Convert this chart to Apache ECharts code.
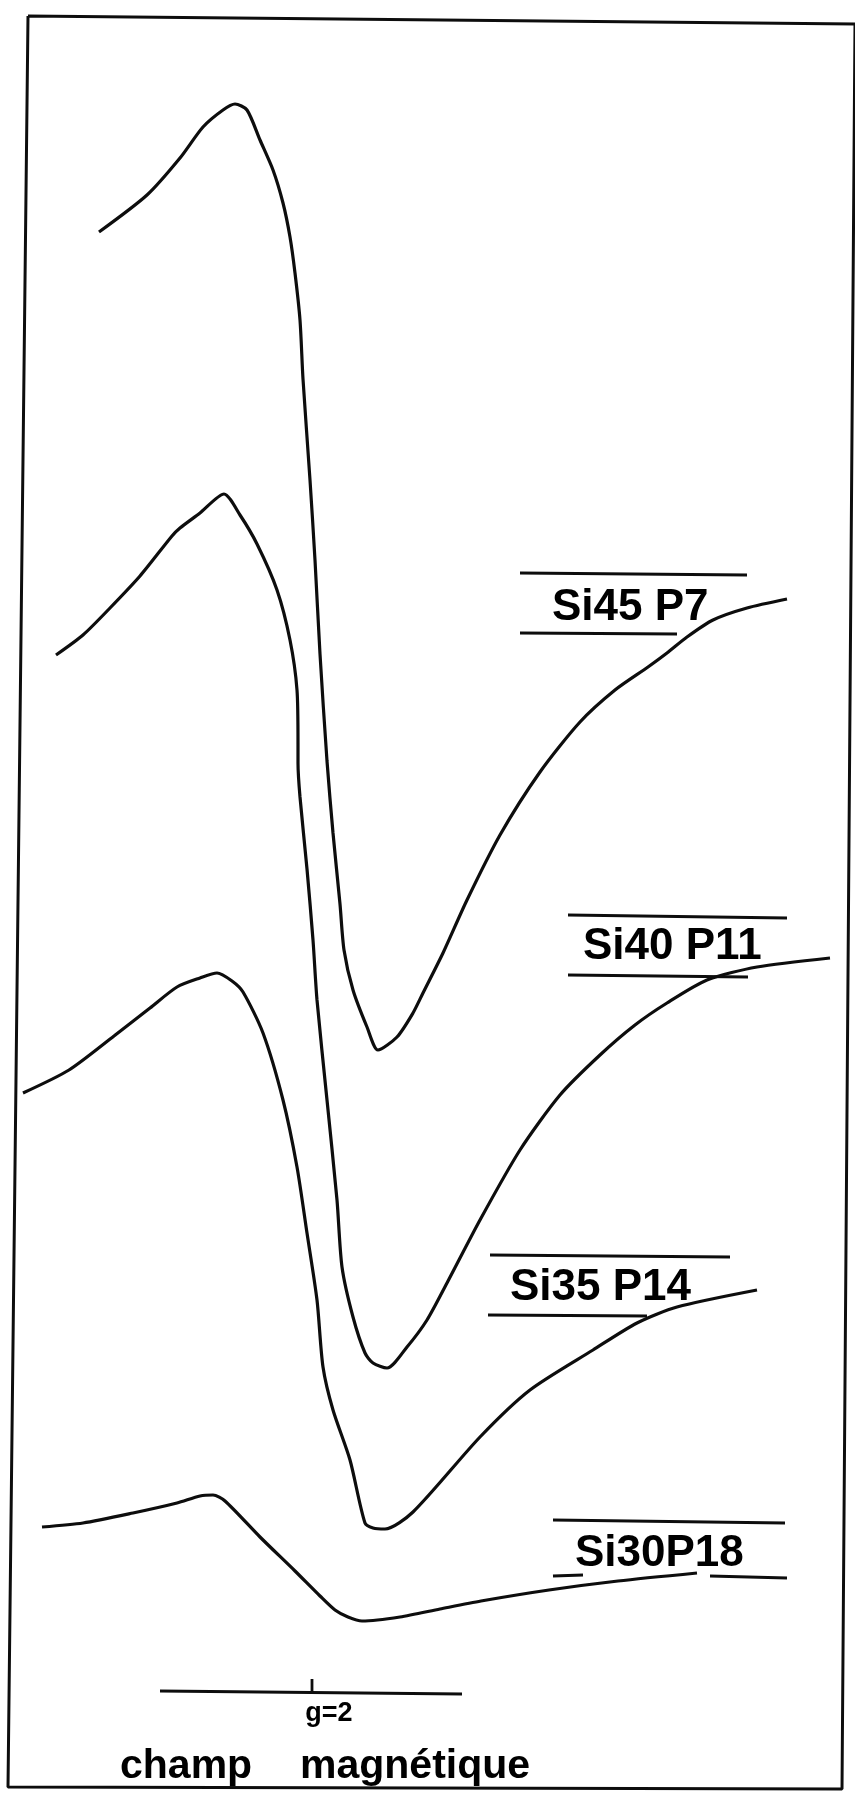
<!DOCTYPE html>
<html><head><meta charset="utf-8">
<script src="https://cdn.jsdelivr.net/npm/echarts/dist/echarts.min.js"></script>
<style>html,body{margin:0;padding:0;background:#fff}#c{width:855px;height:1794px}</style>
</head><body><div id="c"></div>
<script>
// Field (x, arbitrary units) / derivative signal (y, arbitrary units, downward positive)
const si45P7 = [[99,232],[147,195],[180,158],[203,127],[223,110],[235,104],[247,110],[260,140],[273,170],[283,203],[290,237],[295,273],[300,320],[303,379],[310,480],[315,560],[320,654],[327,761],[333,833],[340,904],[344,950],[353,990],[367,1027],[378,1050],[397,1037],[413,1013],[423,993],[443,953],[467,900],[500,835],[540,772],[580,722],[615,690],[648,667],[667,653],[687,637],[713,620],[747,608],[787,599]];
const si40P11 = [[56,655],[83,635],[110,608],[140,576],[172,536],[180,528],[200,513],[224,494],[240,515],[257,544],[277,590],[290,640],[297,690],[298,744],[298,763],[300,797],[307,869],[313,940],[317,1000],[327,1100],[337,1200],[342,1267],[353,1317],[365,1353],[373,1363],[387,1368],[407,1347],[427,1320],[447,1283],[480,1220],[520,1150],[560,1095],[600,1055],[635,1025],[667,1003],[707,980],[757,967],[830,958]];
const si35P14 = [[23,1093],[69,1070],[114,1036],[150,1008],[177,987],[200,978],[217,973],[232,981],[243,992],[263,1033],[283,1100],[297,1167],[307,1233],[317,1300],[323,1367],[333,1410],[350,1460],[365,1523],[373,1528],[385,1529],[413,1512],[480,1437],[530,1390],[593,1350],[637,1323],[677,1307],[757,1290]];
const si30P18 = [[42,1527],[83,1523],[133,1513],[177,1503],[200,1496],[213,1495],[225,1501],[260,1537],[295,1571],[320,1596],[335,1610],[348,1617],[362,1621],[400,1617],[440,1609],[481,1601],[549,1590],[618,1581],[697,1573]];

const sampleNames = ['Si45 P7', 'Si40 P11', 'Si35 P14', 'Si30P18'];
const sampleLabelPos = [[552,608],[583,947],[510,1288],[575,1554]];
const underlineSegments = [
  [[520,573],[747,575]], [[520,633],[677,634]],
  [[568,915],[787,918]], [[568,975],[748,977]],
  [[490,1255],[730,1257]], [[488,1315],[647,1316]],
  [[553,1520],[785,1523]], [[553,1576],[583,1575]], [[710,1576],[787,1578]]
];
const frameOutline = [[28,16],[855,24],[842,1789],[8,1787],[28,16]];
const fieldScaleBar = [[160,1691],[462,1694]];
const g2Tick = [[312,1679],[312,1692]];
const axisTexts = ['g=2', 'champ', 'magnétique'];
const axisTextPos = [[329,1714],[120,1767],[300,1767]];

const INK = '#0d0d0d';
const FONT = '"Liberation Sans", Arial, sans-serif';
const chart = echarts.init(document.getElementById('c'), null, {renderer: 'canvas'});

function lineSeries(data, w, smooth) {
  return {type: 'line', data: data, showSymbol: false, symbol: 'none', smooth: smooth || false,
    silent: true, animation: false, lineStyle: {color: INK, width: w, opacity: 1}, z: 2};
}

const series = [];
[si45P7, si40P11, si35P14, si30P18].forEach(d => series.push(lineSeries(d, 3.2, 0.25)));
underlineSegments.forEach(s => series.push(lineSeries(s, 3)));
series.push(lineSeries(frameOutline, 3));
series.push(lineSeries(fieldScaleBar, 2.8));
series.push(lineSeries(g2Tick, 2.8));

series.push({
  type: 'scatter', symbolSize: 0, silent: true, animation: false, z: 5,
  data: sampleNames.map((n, i) => ({value: sampleLabelPos[i], name: n})),
  label: {show: true, position: 'right', distance: 0, formatter: p => p.name, opacity: 1,
    fontFamily: FONT, fontWeight: 'bold', fontSize: 44, color: '#000', textBorderWidth: 0}
});
series.push({
  type: 'scatter', symbolSize: 0, silent: true, animation: false, z: 5,
  data: axisTexts.map((t, i) => ({value: axisTextPos[i], name: t,
    label: i === 0 ? {position: 'inside', fontSize: 27} : {position: 'right', distance: 0, fontSize: 41}})),
  label: {show: true, formatter: p => p.name, fontFamily: FONT, fontWeight: 'bold', color: '#000', opacity: 1, textBorderWidth: 0}
});

chart.setOption({
  backgroundColor: '#ffffff',
  animation: false,
  grid: {left: 0, right: 0, top: 0, bottom: 0},
  xAxis: {type: 'value', min: 0, max: 855, show: false},
  yAxis: {type: 'value', min: 0, max: 1794, inverse: true, show: false},
  series: series
});
</script></body></html>
